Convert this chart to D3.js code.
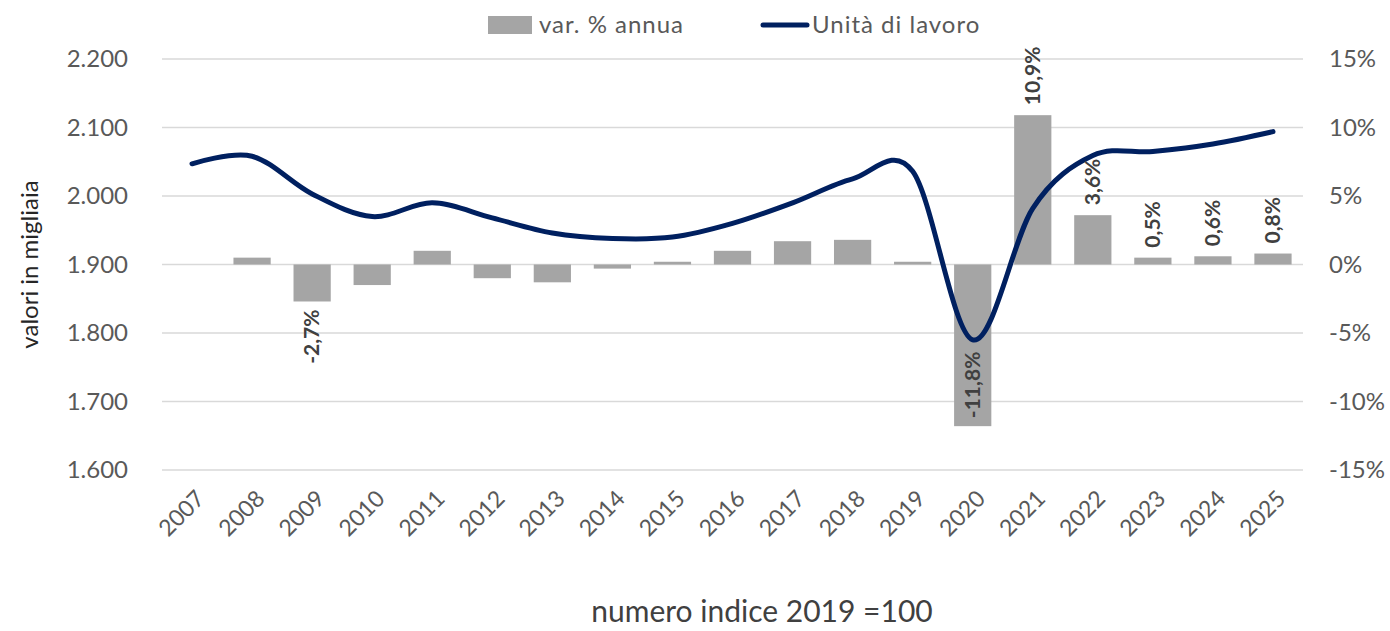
<!DOCTYPE html>
<html>
<head>
<meta charset="utf-8">
<script src="https://cdn.jsdelivr.net/npm/d3@7"></script>
<style>
  body { margin: 0; background: #fff; }
  text { font-family: Lato, "Open Sans", sans-serif; }
</style>
</head>
<body>
<div id="chart"></div>
<script>
// Data
var years = ["2007", "2008", "2009", "2010", "2011", "2012", "2013", "2014", "2015", "2016",
  "2017", "2018", "2019", "2020", "2021", "2022", "2023", "2024", "2025"];
// Unità di lavoro (migliaia)
var unita = [2047, 2058, 2003, 1970, 1990, 1968, 1946, 1938, 1940, 1960,
  1990, 2025, 2036, 1790, 1982, 2059, 2065, 2076, 2094];
// var. % annua
var varAnnua = [null, 0.5, -2.7, -1.5, 1.0, -1.0, -1.3, -0.3, 0.2, 1.0,
  1.7, 1.8, 0.2, -11.8, 10.9, 3.6, 0.5, 0.6, 0.8];
// years whose bars carry a data label
var labelYears = ["2009", "2020", "2021", "2022", "2023", "2024", "2025"];
var leftTicks = [1600, 1700, 1800, 1900, 2000, 2100, 2200];
var rightTicks = [-15, -10, -5, 0, 5, 10, 15];

function drawChart() {
  var totalW = 1390, totalH = 631;
  var margin = { top: 59, right: 87, bottom: 161, left: 162 },
    width = totalW - margin.left - margin.right,
    height = totalH - margin.top - margin.bottom;

  var barColor = "#a5a5a5";
  var lineColor = "#002060";
  var textColor = "#595959";

  var svgRoot = d3.select("#chart").append("svg")
    .attr("width", totalW)
    .attr("height", totalH);

  var svg = svgRoot.append("g")
    .attr("transform", "translate(" + margin.left + "," + margin.top + ")");

  // scales
  var x = d3.scaleBand().domain(years).range([0, width])
    .paddingInner(0.38).paddingOuter(0.19);
  var yLeft = d3.scaleLinear().domain([1600, 2200]).range([height, 0]);
  var yRight = d3.scaleLinear().domain([-15, 15]).range([height, 0]);

  // gridlines
  svg.append("g").selectAll("line")
    .data(leftTicks)
    .enter().append("line")
    .attr("x1", 0).attr("x2", width)
    .attr("y1", function (d) { return yLeft(d); })
    .attr("y2", function (d) { return yLeft(d); })
    .attr("stroke", "#d9d9d9")
    .attr("stroke-width", 1.5);

  // left axis
  var leftAxis = svg.append("g")
    .call(d3.axisLeft(yLeft).tickValues(leftTicks).tickSize(0).tickPadding(34)
      .tickFormat(function (d) { return d3.format(",")(d).replace(",", "."); }));
  leftAxis.select(".domain").remove();
  leftAxis.selectAll("text")
    .style("font-size", "24px")
    .attr("fill", textColor);

  // right axis
  var rightAxis = svg.append("g")
    .attr("transform", "translate(" + width + ",0)")
    .call(d3.axisRight(yRight).tickValues(rightTicks).tickSize(0).tickPadding(26)
      .tickFormat(function (d) { return d + "%"; }));
  rightAxis.select(".domain").remove();
  rightAxis.selectAll("text")
    .style("font-size", "24px")
    .attr("fill", textColor);

  // x axis
  var xAxis = svg.append("g")
    .attr("transform", "translate(0," + height + ")")
    .call(d3.axisBottom(x).tickSize(0).tickPadding(0));
  xAxis.select(".domain").remove();
  xAxis.selectAll("text")
    .style("font-size", "23px")
    .attr("fill", textColor)
    .attr("text-anchor", "end")
    .attr("dy", "0")
    .attr("transform", "translate(14,30) rotate(-45)");

  // bars
  var barData = years.map(function (y, i) { return { year: y, v: varAnnua[i] }; })
    .filter(function (d) { return d.v !== null; });

  svg.append("g").selectAll("rect")
    .data(barData)
    .enter().append("rect")
    .attr("x", function (d) { return x(d.year); })
    .attr("width", x.bandwidth())
    .attr("y", function (d) { return yRight(Math.max(0, d.v)); })
    .attr("height", function (d) { return Math.abs(yRight(d.v) - yRight(0)); })
    .attr("fill", barColor);

  // line
  var lineData = years.map(function (y, i) { return { year: y, v: unita[i] }; });
  var line = d3.line()
    .x(function (d) { return x(d.year) + x.bandwidth() / 2; })
    .y(function (d) { return yLeft(d.v); })
    .curve(d3.curveCardinal.tension(0));

  svg.append("path")
    .datum(lineData)
    .attr("fill", "none")
    .attr("stroke", lineColor)
    .attr("stroke-width", 5)
    .attr("stroke-linecap", "round")
    .attr("d", line);

  // data labels (rotated)
  var labelData = barData.filter(function (d) { return labelYears.indexOf(d.year) >= 0; });
  var labelLen = 70;
  svg.append("g").selectAll("text")
    .data(labelData)
    .enter().append("text")
    .text(function (d) { return d.v.toFixed(1).replace(".", ",") + "%"; })
    .style("font-size", "21px")
    .style("font-weight", "bold")
    .attr("fill", "#404040")
    .attr("dy", "0.35em")
    .attr("text-anchor", function (d) {
      if (d.v >= 0) return "start";
      return yRight(d.v) + 8 + labelLen < height ? "end" : "start";
    })
    .attr("transform", function (d) {
      var cx = x(d.year) + x.bandwidth() / 2;
      var yEnd = yRight(d.v);
      var ty;
      if (d.v >= 0) ty = yEnd - 10;
      else ty = yEnd + 8 + labelLen < height ? yEnd + 8 : yEnd - 8;
      return "translate(" + cx + "," + ty + ") rotate(-90)";
    });

  // legend
  var legend = svgRoot.append("g");
  legend.append("rect")
    .attr("x", 488).attr("y", 16)
    .attr("width", 44).attr("height", 18)
    .attr("fill", barColor);
  legend.append("text")
    .attr("x", 539).attr("y", 25).attr("dy", "0.35em")
    .style("font-size", "24px")
    .style("letter-spacing", "1px")
    .attr("fill", textColor)
    .text("var. % annua");
  legend.append("line")
    .attr("x1", 763).attr("x2", 807)
    .attr("y1", 25).attr("y2", 25)
    .attr("stroke", lineColor)
    .attr("stroke-width", 5)
    .attr("stroke-linecap", "round");
  legend.append("text")
    .attr("x", 812).attr("y", 25).attr("dy", "0.35em")
    .style("font-size", "24px")
    .style("letter-spacing", "1px")
    .attr("fill", textColor)
    .text("Unità di lavoro");

  // axis titles
  svgRoot.append("text")
    .attr("transform", "translate(30," + (margin.top + height / 2) + ") rotate(-90)")
    .attr("text-anchor", "middle")
    .attr("dy", "0.35em")
    .style("font-size", "24px")
    .attr("fill", "#262626")
    .text("valori in migliaia");

  svgRoot.append("text")
    .attr("x", 762).attr("y", 622)
    .attr("text-anchor", "middle")
    .style("font-size", "30px")
    .attr("fill", "#404040")
    .text("numero indice 2019 =100");
}

drawChart();
</script>
</body>
</html>
